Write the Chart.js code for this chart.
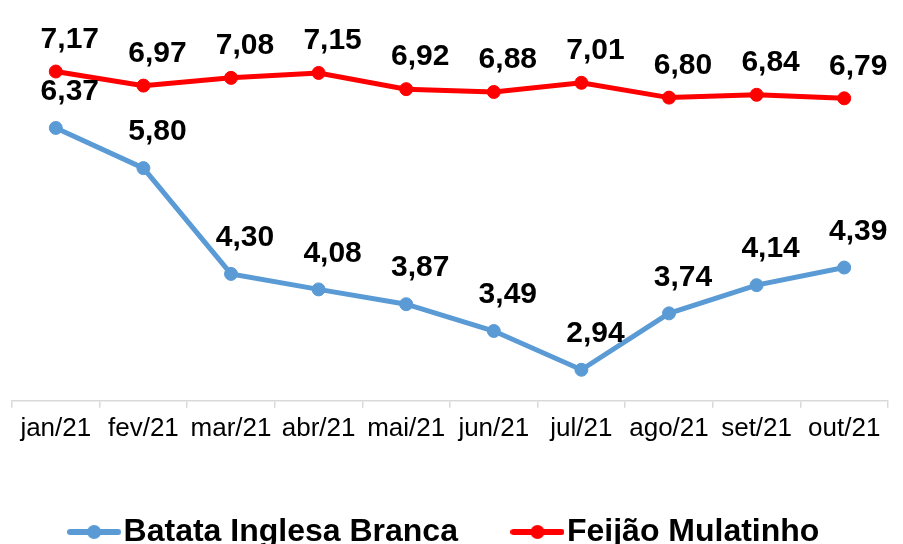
<!DOCTYPE html>
<html lang="pt">
<head>
    <meta charset="UTF-8">
    <title>Batata x Feijão</title>
    <script src="https://cdn.jsdelivr.net/npm/chart.js"></script>
    <style>
        html, body {
            margin: 0;
            padding: 0;
            background: #fff;
            overflow: hidden;
        }
        .chart-box {
            position: relative;
            width: 903px;
            height: 562px;
        }
    </style>
</head>
<body>
    <div class="chart-box">
        <canvas id="priceChart"></canvas>
    </div>

    <script>
        const months = ['jan/21', 'fev/21', 'mar/21', 'abr/21', 'mai/21', 'jun/21', 'jul/21', 'ago/21', 'set/21', 'out/21'];
        const batata = [6.37, 5.80, 4.30, 4.08, 3.87, 3.49, 2.94, 3.74, 4.14, 4.39];
        const feijao = [7.17, 6.97, 7.08, 7.15, 6.92, 6.88, 7.01, 6.80, 6.84, 6.79];

        const BLUE = '#5B9BD5';
        const RED = '#FF0000';
        const FONT = '"Liberation Sans", Arial, sans-serif';

        Chart.defaults.font.family = FONT;
        Chart.defaults.color = '#000';

        // legend marker: a short line with a dot in the middle
        function legendMarker(color) {
            const c = document.createElement('canvas');
            c.width = 54;
            c.height = 16;
            const g = c.getContext('2d');
            g.strokeStyle = color;
            g.lineWidth = 6;
            g.lineCap = 'round';
            g.beginPath();
            g.moveTo(3, 8);
            g.lineTo(51, 8);
            g.stroke();
            g.fillStyle = color;
            g.beginPath();
            g.arc(27, 8, 7, 0, Math.PI * 2);
            g.fill();
            return c;
        }

        // value labels above every point (comma decimals)
        const valueLabels = {
            id: 'valueLabels',
            afterDatasetsDraw(chart) {
                const ctx = chart.ctx;
                ctx.save();
                ctx.font = 'bold 30px ' + FONT;
                ctx.fillStyle = '#000';
                ctx.textAlign = 'center';
                ctx.textBaseline = 'middle';
                chart.data.datasets.forEach((ds, i) => {
                    const meta = chart.getDatasetMeta(i);
                    const lift = ds.labelLift;
                    meta.data.forEach((pt, j) => {
                        const txt = ds.data[j].toFixed(2).replace('.', ',');
                        ctx.fillText(txt, pt.x + 14, pt.y - lift);
                    });
                });
                ctx.restore();
            }
        };

        new Chart(document.getElementById('priceChart'), {
            type: 'line',
            data: {
                labels: months,
                datasets: [
                    {
                        label: 'Batata Inglesa Branca',
                        data: batata,
                        borderColor: BLUE,
                        backgroundColor: BLUE,
                        borderWidth: 5,
                        pointRadius: 6.5,
                        pointBorderWidth: 1,
                        labelLift: 36,
                        tension: 0
                    },
                    {
                        label: 'Feijão Mulatinho',
                        data: feijao,
                        borderColor: RED,
                        backgroundColor: RED,
                        borderWidth: 5,
                        pointRadius: 6.5,
                        pointBorderWidth: 1,
                        labelLift: 32,
                        tension: 0
                    }
                ]
            },
            options: {
                responsive: true,
                maintainAspectRatio: false,
                animation: false,
                layout: {
                    padding: { top: 13, left: 12, right: 15, bottom: 4 }
                },
                plugins: {
                    tooltip: { enabled: false },
                    legend: {
                        position: 'bottom',
                        labels: {
                            usePointStyle: true,
                            pointStyleWidth: 27,
                            padding: 66,
                            color: '#000',
                            font: { size: 32, weight: 'bold' },
                            generateLabels(chart) {
                                return chart.data.datasets.map((ds, i) => ({
                                    text: ds.label,
                                    pointStyle: legendMarker(ds.borderColor),
                                    fillStyle: ds.borderColor,
                                    strokeStyle: ds.borderColor,
                                    lineWidth: 0,
                                    hidden: false,
                                    datasetIndex: i
                                }));
                            }
                        }
                    }
                },
                scales: {
                    x: {
                        offset: true,
                        grid: {
                            offset: true,
                            drawOnChartArea: false,
                            drawTicks: true,
                            tickLength: 7,
                            color: '#d9d9d9',
                            lineWidth: 1.5
                        },
                        border: { display: true, color: '#d9d9d9', width: 1.5 },
                        ticks: {
                            color: '#000',
                            padding: 5.5,
                            maxRotation: 0,
                            autoSkip: false,
                            font: { size: 26 }
                        }
                    },
                    y: {
                        display: false,
                        min: 2.5,
                        max: 8
                    }
                }
            },
            plugins: [valueLabels]
        });
    </script>
</body>
</html>
